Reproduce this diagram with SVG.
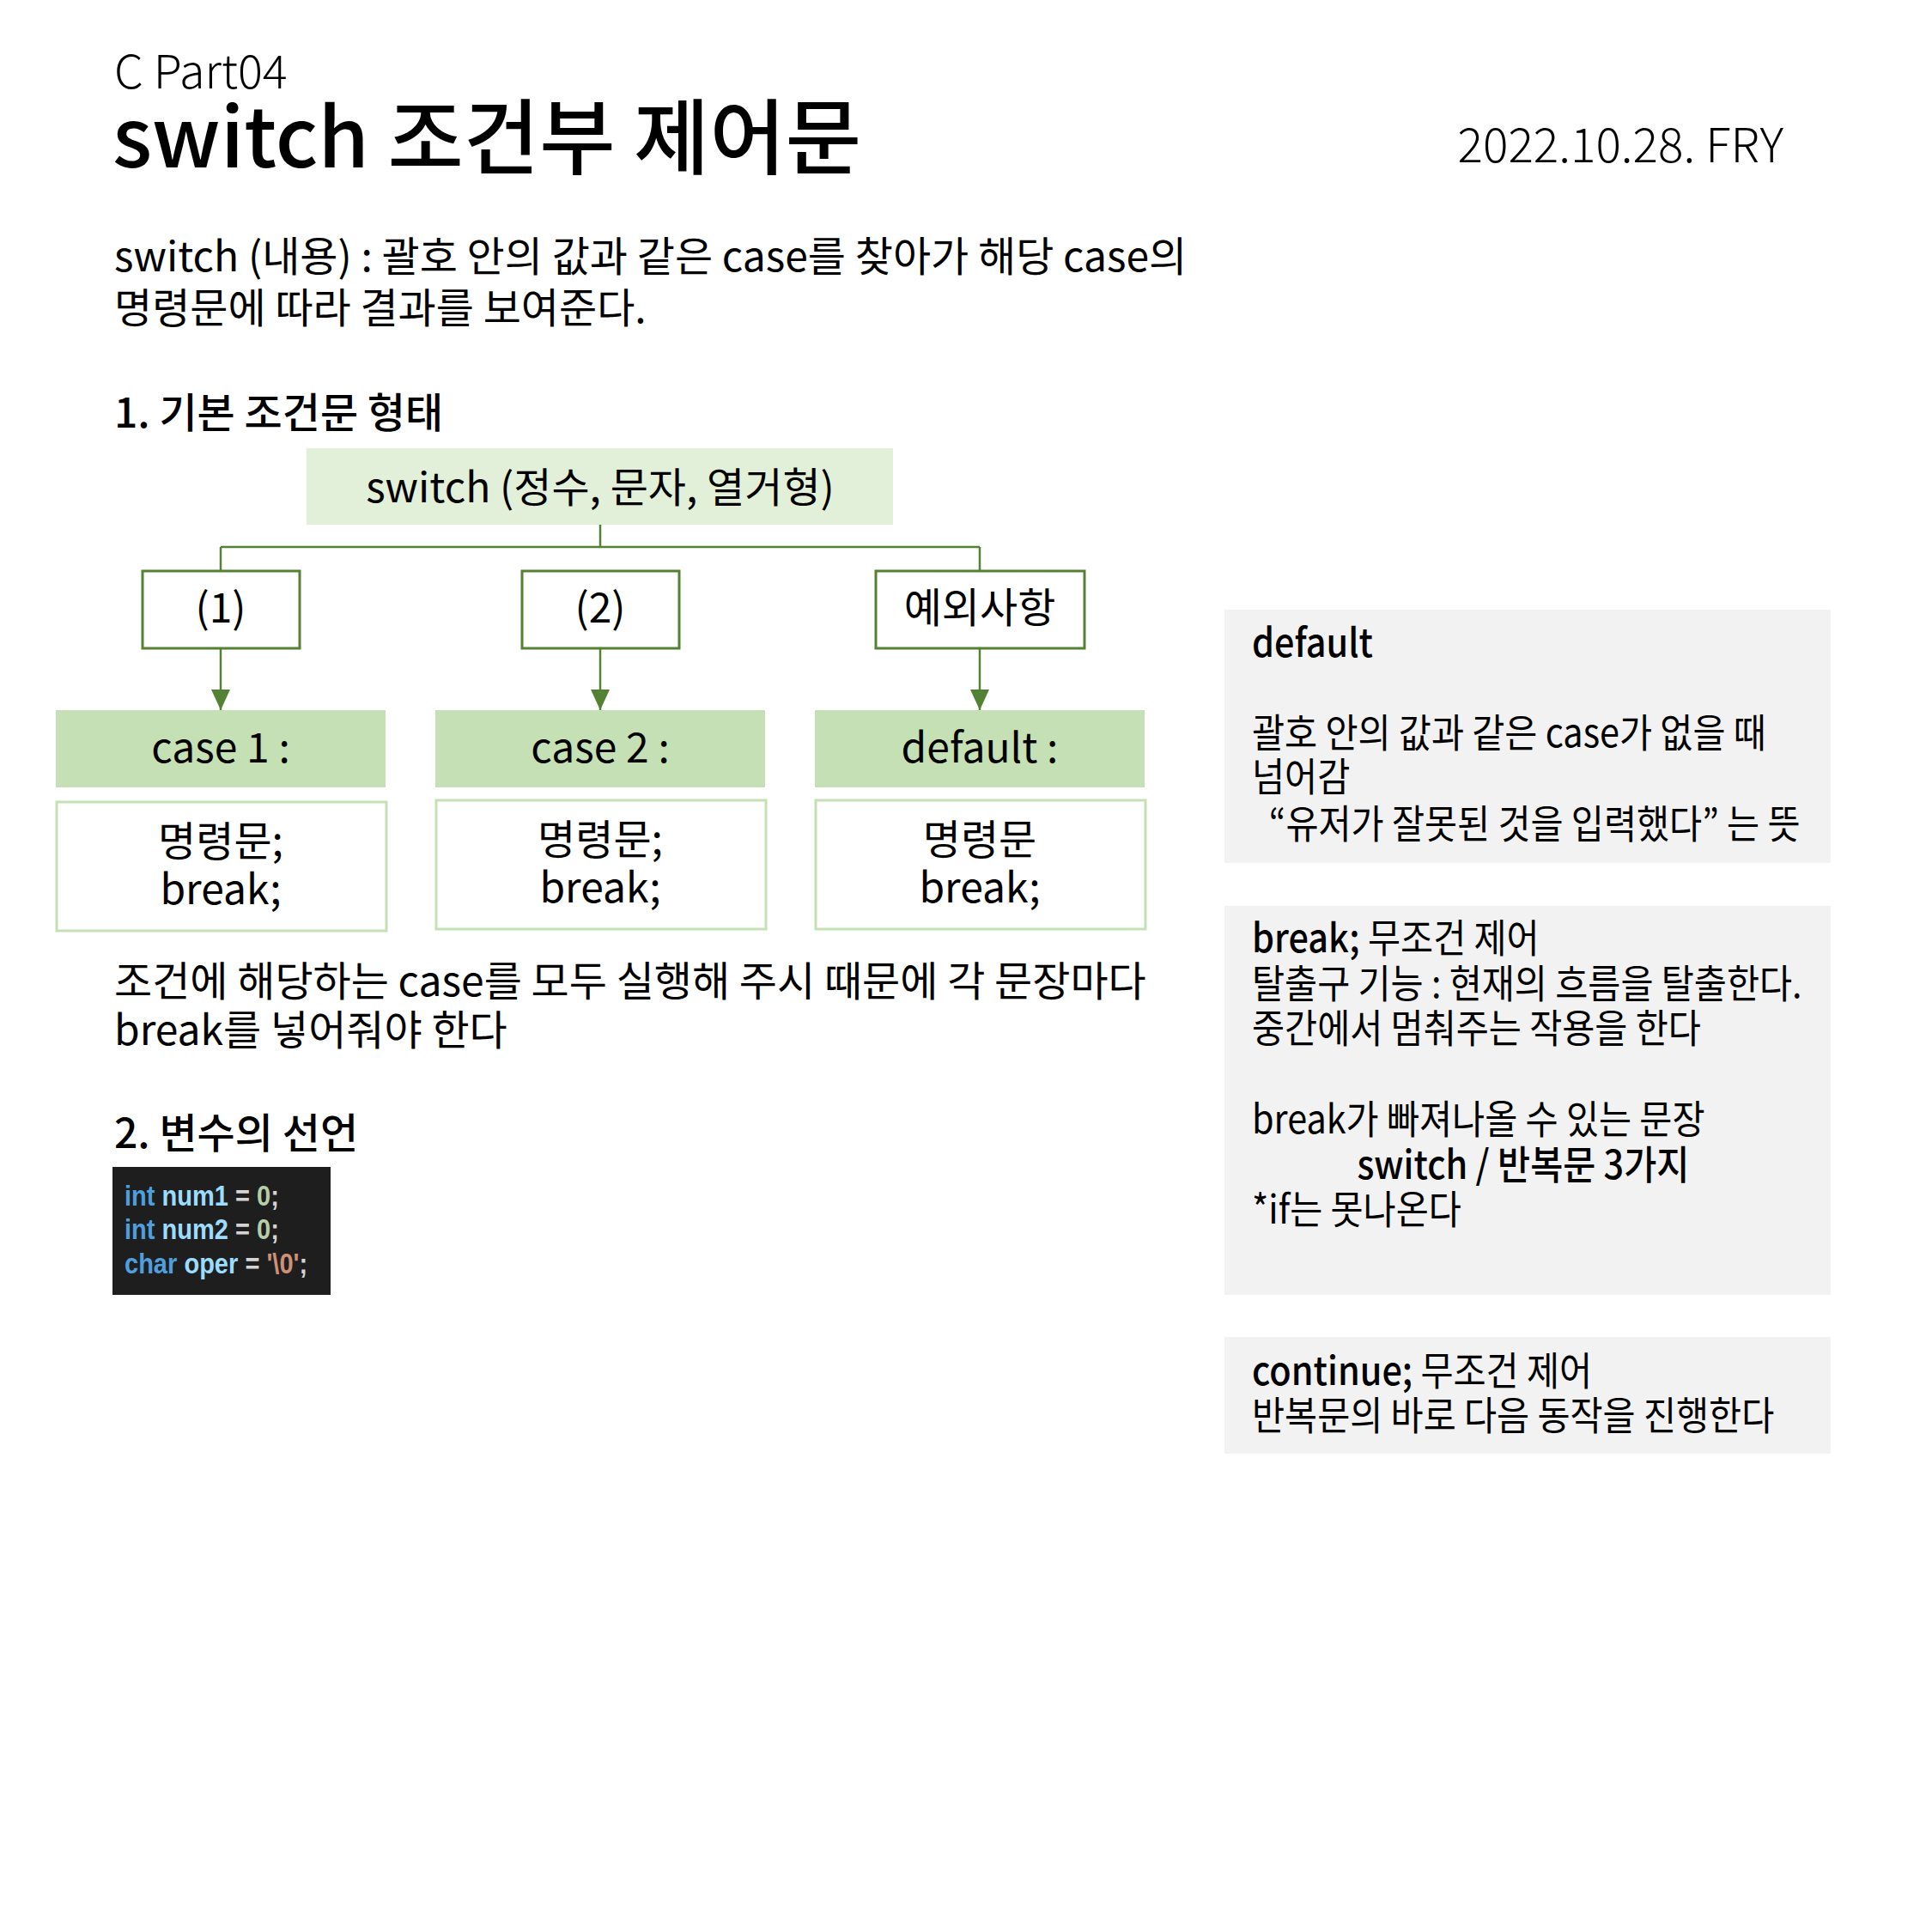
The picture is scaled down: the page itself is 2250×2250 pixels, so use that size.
<svg xmlns="http://www.w3.org/2000/svg" width="2250" height="2250" viewBox="0 0 2250 2250">
<defs>
<style>
text{font-family:"Noto Sans CJK KR","Noto Sans",sans-serif;fill:#000}
.body{font-size:48px}
.pan{font-size:46px}
.mid{font-weight:500}
.lbl{font-size:48px;text-anchor:middle}
.code{font-family:"Liberation Sans",sans-serif;font-size:33px;font-weight:bold}
.conn{stroke:#548235;stroke-width:2.5;fill:none}
</style>
<marker id="arrow" viewBox="0 0 24 22" refX="24" refY="11" markerWidth="24" markerHeight="22" markerUnits="userSpaceOnUse" orient="auto">
<path d="M0,0 L24,11 L0,22 z" fill="#548235"/>
</marker>
</defs>
<rect width="2250" height="2250" fill="#fff"/>

<g id="header">
<text x="133" y="103" font-size="54" font-weight="300">C Part04</text>
<text x="131" y="195" font-size="96" font-weight="500">switch 조건부 제어문</text>
<text x="2077" y="189" font-size="55" text-anchor="end" font-weight="300">2022.10.28. FRY</text>
</g>

<g id="intro">
<text class="body" x="133" y="316">switch (내용) : 괄호 안의 값과 같은 case를 찾아가 해당 case의</text>
<text class="body" x="133" y="376">명령문에 따라 결과를 보여준다.</text>
<text x="133" y="498" font-size="48" class="mid">1. 기본 조건문 형태</text>
</g>

<g id="connectors">
<path class="conn" d="M699,611 V637 M257,637 H1141 M257,637 V664 M1141,637 V664"/>
<path class="conn" d="M257,755 V827" marker-end="url(#arrow)"/>
<path class="conn" d="M699,755 V827" marker-end="url(#arrow)"/>
<path class="conn" d="M1141,755 V827" marker-end="url(#arrow)"/>
</g>

<g id="node-switch">
<rect x="357" y="522" width="683" height="89" fill="#e2efd9"/>
<text class="lbl" x="699" y="585">switch (정수, 문자, 열거형)</text>
</g>

<g id="node-1">
<rect x="166" y="665" width="183" height="90" fill="#fff" stroke="#548235" stroke-width="3"/>
<text class="lbl" x="257" y="725">(1)</text>
</g>
<g id="node-2">
<rect x="608" y="665" width="183" height="90" fill="#fff" stroke="#548235" stroke-width="3"/>
<text class="lbl" x="699" y="725">(2)</text>
</g>
<g id="node-exc">
<rect x="1020" y="665" width="243" height="90" fill="#fff" stroke="#548235" stroke-width="3"/>
<text class="lbl" x="1141" y="725">예외사항</text>
</g>

<g id="node-case1">
<rect x="65" y="827" width="384" height="90" fill="#c5e0b4"/>
<text class="lbl" x="257" y="888">case 1 :</text>
</g>
<g id="node-case2">
<rect x="507" y="827" width="384" height="90" fill="#c5e0b4"/>
<text class="lbl" x="699" y="888">case 2 :</text>
</g>
<g id="node-default">
<rect x="949" y="827" width="384" height="90" fill="#c5e0b4"/>
<text class="lbl" x="1141" y="888">default :</text>
</g>

<g id="node-body1">
<rect x="66" y="934" width="384" height="150" fill="#fff" stroke="#c5e0b4" stroke-width="3"/>
<text class="lbl" x="257" y="997">명령문;</text>
<text class="lbl" x="257" y="1053">break;</text>
</g>
<g id="node-body2">
<rect x="508" y="932" width="384" height="150" fill="#fff" stroke="#c5e0b4" stroke-width="3"/>
<text class="lbl" x="699" y="995">명령문;</text>
<text class="lbl" x="699" y="1051">break;</text>
</g>
<g id="node-body3">
<rect x="950" y="932" width="384" height="150" fill="#fff" stroke="#c5e0b4" stroke-width="3"/>
<text class="lbl" x="1141" y="995">명령문</text>
<text class="lbl" x="1141" y="1051">break;</text>
</g>

<g id="note1">
<text class="body" x="133" y="1160">조건에 해당하는 case를 모두 실행해 주시 때문에 각 문장마다</text>
<text class="body" x="133" y="1217">break를 넣어줘야 한다</text>
<text x="133" y="1337" font-size="48" class="mid">2. 변수의 선언</text>
</g>

<g id="code">
<rect x="131" y="1359" width="254" height="149" fill="#1e1e1e"/>
<g transform="translate(145,0) scale(0.88,1) translate(-145,0)">
<text class="code" x="145" y="1404"><tspan fill="#4f9fdc">int</tspan><tspan fill="#9cdcfe"> num1</tspan><tspan fill="#d4d4d4"> = </tspan><tspan fill="#b5cea8">0</tspan><tspan fill="#d4d4d4">;</tspan></text>
<text class="code" x="145" y="1443"><tspan fill="#4f9fdc">int</tspan><tspan fill="#9cdcfe"> num2</tspan><tspan fill="#d4d4d4"> = </tspan><tspan fill="#b5cea8">0</tspan><tspan fill="#d4d4d4">;</tspan></text>
<text class="code" x="145" y="1483"><tspan fill="#4f9fdc">char</tspan><tspan fill="#9cdcfe"> oper</tspan><tspan fill="#d4d4d4"> = </tspan><tspan fill="#ce9178">'\0'</tspan><tspan fill="#d4d4d4">;</tspan></text>
</g>
</g>

<g id="panel-default">
<rect x="1426" y="710" width="706" height="295" fill="#f2f2f2"/>
<g transform="translate(1458,0) scale(0.9,1) translate(-1458,0)">
<text class="pan mid" x="1458" y="765">default</text>
<text class="pan" x="1458" y="870">괄호 안의 값과 같은 case가 없을 때</text>
<text class="pan" x="1458" y="921">넘어감</text>
<text class="pan" x="1480" y="976">“유저가 잘못된 것을 입력했다” 는 뜻</text>
</g>
</g>

<g id="panel-break">
<rect x="1426" y="1055" width="706" height="453" fill="#f2f2f2"/>
<g transform="translate(1458,0) scale(0.9,1) translate(-1458,0)">
<text class="pan" x="1458" y="1109"><tspan class="mid">break;</tspan> 무조건 제어</text>
<text class="pan" x="1458" y="1162">탈출구 기능 : 현재의 흐름을 탈출한다.</text>
<text class="pan" x="1458" y="1214">중간에서 멈춰주는 작용을 한다</text>
<text class="pan" x="1458" y="1320">break가 빠져나올 수 있는 문장</text>
<text class="pan mid" x="1594" y="1373">switch / 반복문 3가지</text>
<text class="pan" x="1458" y="1425">*if는 못나온다</text>
</g>
</g>

<g id="panel-continue">
<rect x="1426" y="1557" width="706" height="136" fill="#f2f2f2"/>
<g transform="translate(1458,0) scale(0.9,1) translate(-1458,0)">
<text class="pan" x="1458" y="1613"><tspan class="mid">continue;</tspan> 무조건 제어</text>
<text class="pan" x="1458" y="1665">반복문의 바로 다음 동작을 진행한다</text>
</g>
</g>
</svg>
